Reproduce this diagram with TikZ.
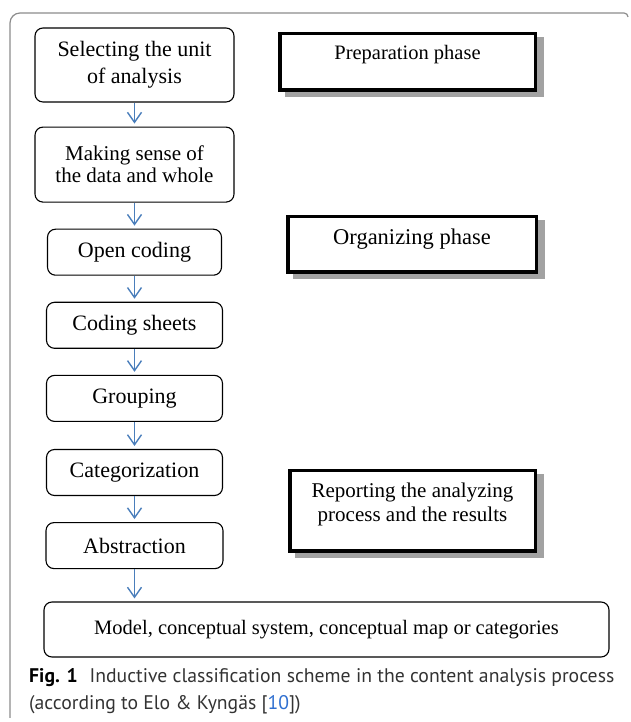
\documentclass[tikz,border=0pt]{standalone}
\usepackage{fontspec}
\setmainfont{Liberation Serif}
\newfontfamily\capfont{PT Sans}
\usetikzlibrary{positioning, arrows.meta, backgrounds}
\definecolor{flowblue}{HTML}{4A7EBB}
\definecolor{framegray}{HTML}{8C8C8C}
\definecolor{shadowgray}{HTML}{A2A2A2}
\definecolor{linkblue}{HTML}{2F6FD0}
\tikzset{
  stepbox/.style={draw, rounded corners=8pt, line width=1.1pt, align=center, minimum width=176pt, minimum height=46pt, inner sep=2pt, font=\fontsize{22}{27}\selectfont},
  phasebox/.style={draw, fill=white, line width=3.5pt},
  phasetext/.style={align=center, inner sep=0pt, font=\fontsize{21}{24}\selectfont},
  flow/.style={draw=flowblue, line width=1.4pt, -{Straight Barb[length=10pt,width=14pt]}, shorten >=3pt},
}

\begin{document}
\begin{tikzpicture}[x=1pt, y=1pt]
\useasboundingbox (0,0) rectangle (630,722);
% frame round the figure
\draw[framegray, line width=1.2pt] (10,4) -- (10,699) arc[start angle=180, end angle=90, radius=10] -- (624,709) arc[start angle=90, end angle=0, radius=4];

% steps
\node[stepbox, minimum width=199pt, minimum height=74pt] (sel) at (134.5,657) {Selecting the unit\\of analysis};
\node[stepbox, minimum width=199pt, minimum height=75pt, font=\fontsize{21}{22}\selectfont, below=24pt of sel] (sense) {Making sense of\\the data and whole};
\node[stepbox, minimum width=174pt, below=26pt of sense] (open) {Open coding};
\node[stepbox, below=26pt of open] (sheets) {Coding sheets};
\node[stepbox, below=26pt of sheets] (group) {Grouping};
\node[stepbox, below=27pt of group] (categ) {Categorization};
\node[stepbox, minimum width=177pt, below=26pt of categ] (abstr) {Abstraction};
\node[stepbox, minimum width=565pt, minimum height=55pt, font=\fontsize{20.5}{24}\selectfont] (model) at (326.5,92.5) {Model, conceptual system, conceptual map or categories};

% phases
\node[phasebox, minimum width=255.5pt, minimum height=56.5pt] (prep) at (407.5,660) {};
\node[phasetext, font=\fontsize{20.5}{24}\selectfont] (preptxt) at ([yshift=7pt]prep.center) {Preparation phase};
\node[phasebox, minimum width=248.5pt, minimum height=55.5pt] (organ) at (412,477.5) {};
\node[phasetext, font=\fontsize{22.5}{24}\selectfont] (organtxt) at ([yshift=5.5pt]organ.center) {Organizing phase};
\node[phasebox, minimum width=245.5pt, minimum height=80.5pt] (report) at (412.5,211) {};
\node[phasetext] (reporttxt) at ([yshift=7pt]report.center) {Reporting the analyzing\\process and the results};
\begin{scope}[on background layer]
  \foreach \p in {prep,organ,report}
    \fill[shadowgray] ([shift={(6.5pt,-5.5pt)}]\p.south west) rectangle ([shift={(6.5pt,-5.5pt)}]\p.north east);
\end{scope}

% arrows
\draw[flow] (sel) -- (sense);
\draw[flow] (sense) -- (open);
\draw[flow] (open) -- (sheets);
\draw[flow] (sheets) -- (group);
\draw[flow] (group) -- (categ);
\draw[flow] (categ) -- (abstr);
\draw[flow] (abstr.south) -- (abstr.south |- model.north);

% caption
\node[anchor=north west, align=left, inner sep=0pt, text=black!80, font=\capfont\fontsize{19.7}{27}\selectfont] (caption) at (29,54) {{\color{black}\bfseries Fig. 1}\hspace{0.6em}Inductive classification scheme in the content analysis process\\(according to Elo \& Kyngäs [\textcolor{linkblue}{10}])};
\end{tikzpicture}
\end{document}
